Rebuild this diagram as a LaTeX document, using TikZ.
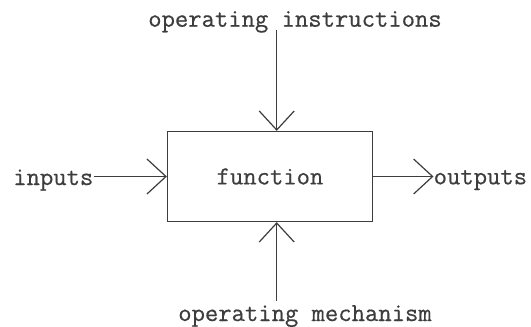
\documentclass[tikz,border=0pt]{standalone}
\usepackage{fontspec}
\newfontfamily\labelfont{Latin Modern Mono}[FakeBold=0.5]
\usetikzlibrary{arrows.meta}
\definecolor{ink}{gray}{0.24}
\begin{document}
\begin{tikzpicture}[x=1pt,y=-1pt,
  every node/.style={font=\labelfont\fontsize{25.9}{30}\selectfont, text=ink},
  label/.style={inner sep=0pt},
  funcbox/.style={draw=ink, line width=1.3pt, minimum width=205pt, minimum height=90pt, inner sep=0pt},
  flow/.style={draw=ink, line width=1.2pt, -{Straight Barb[length=19pt,width=35pt,line width=1.2pt]}}
]
\useasboundingbox (0,0) rectangle (531,327);

% central activity box
\node[funcbox] (fn) at (270,176.5) {function};

% labels
\node[label, anchor=base] (instr) at (295,26.7) {operating instructions};
\node[label, anchor=base] (mech) at (305,321) {operating mechanism};
\node[label, anchor=base east] (inputs) at (93.5,185) {inputs};
\node[label, anchor=base west] (outputs) at (433.5,184.3) {outputs};

% free ends of the vertical connectors
\coordinate (topin) at (276.7,30);
\coordinate (botin) at (276.7,301);

% connectors
\draw[flow] (topin) -- (topin |- fn.north);
\draw[flow] (botin) -- (botin |- fn.south);
\draw[flow] (inputs.east |- fn.west) -- (fn.west);
\draw[flow] (fn.east) -- (fn.east -| outputs.west);
\end{tikzpicture}
\end{document}
